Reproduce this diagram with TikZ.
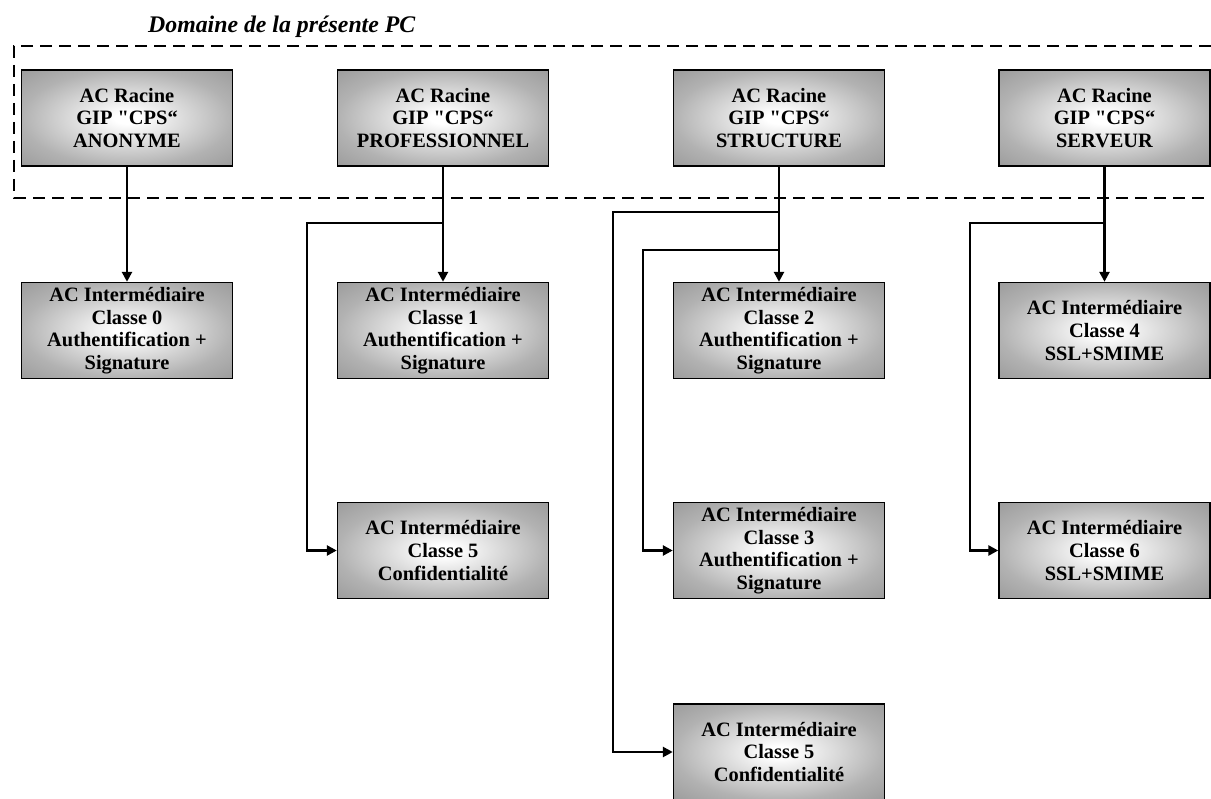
\documentclass[tikz,border=0pt]{standalone}
\usepackage{fontspec}
\setmainfont{Liberation Serif}[Ligatures=TeXOff]
\usetikzlibrary{arrows.meta}
\definecolor{shadeedge}{HTML}{B2B2B2}
\definecolor{shadecorner}{HTML}{9C9C9C}
\pgfdeclareradialshading{cabox}{\pgfpoint{0bp}{0bp}}{color(0bp)=(white); color(3bp)=(white); color(25bp)=(shadeedge); color(35.4bp)=(shadecorner); color(50bp)=(shadecorner)}
\tikzset{
  cabox/.style={draw=black, line width=1.4pt, shade, shading=cabox,
    minimum width=211pt, minimum height=96pt, inner sep=0pt, align=center,
    font=\bfseries\fontsize{20.4}{22.6}\selectfont},
  conn/.style={line width=2.8pt, -{Triangle[length=10pt,width=10pt]}},
  pcdomain/.style={line width=2.4pt, dash pattern=on 12pt off 7pt},
  titletext/.style={font=\bfseries\itshape\fontsize{23.8}{27}\selectfont, inner sep=0pt, anchor=base west}
}
\begin{document}
\begin{tikzpicture}[x=1pt,y=-1pt]
\useasboundingbox (0,0) rectangle (1211,799);
% domain
\draw[pcdomain] (1211,46) -- (14,46) -- (14,198) -- (1211,198);
\node[titletext] (title) at (148,33) {Domaine de la présente PC};
% root boxes
\node[cabox] (r0) at (127,118) {AC Racine\\GIP "CPS“\\ANONYME};
\node[cabox] (r1) at (443,118) {AC Racine\\GIP "CPS“\\PROFESSIONNEL};
\node[cabox] (r2) at (779,118) {AC Racine\\GIP "CPS“\\STRUCTURE};
\node[cabox] (r3) at (1104.5,118) {AC Racine\\GIP "CPS“\\SERVEUR};
% intermediate row 1
\node[cabox] (i0) at (127,330.5) {AC Intermédiaire\\Classe 0\\Authentification +\\Signature};
\node[cabox] (i1) at (443,330.5) {AC Intermédiaire\\Classe 1\\Authentification +\\Signature};
\node[cabox] (i2) at (779,330.5) {AC Intermédiaire\\Classe 2\\Authentification +\\Signature};
\node[cabox] (i4) at (1104.5,330.5) {AC Intermédiaire\\Classe 4\\SSL+SMIME};
% row 2
\node[cabox] (i5a) at (443,550.5) {AC Intermédiaire\\Classe 5\\Confidentialité};
\node[cabox] (i3) at (779,550.5) {AC Intermédiaire\\Classe 3\\Authentification +\\Signature};
\node[cabox] (i6) at (1104.5,550.5) {AC Intermédiaire\\Classe 6\\SSL+SMIME};
% row 3
\node[cabox] (i5b) at (779,752) {AC Intermédiaire\\Classe 5\\Confidentialité};
% connectors
\draw[conn] (r0.south) -- (i0.north);
\draw[conn] (r1.south) -- (i1.north);
\draw[conn] (r2.south) -- (i2.north);
\draw[conn] (r3.south) -- (i4.north);
\draw[conn] (r1.south |- 0,223) -- (307,223) |- (i5a.west);
\draw[conn] (r2.south |- 0,212) -- (613,212) |- (i5b.west);
\draw[conn] (r2.south |- 0,250) -- (643,250) |- (i3.west);
\draw[conn] (r3.south |- 0,223) -- (970,223) |- (i6.west);
\end{tikzpicture}
\end{document}
